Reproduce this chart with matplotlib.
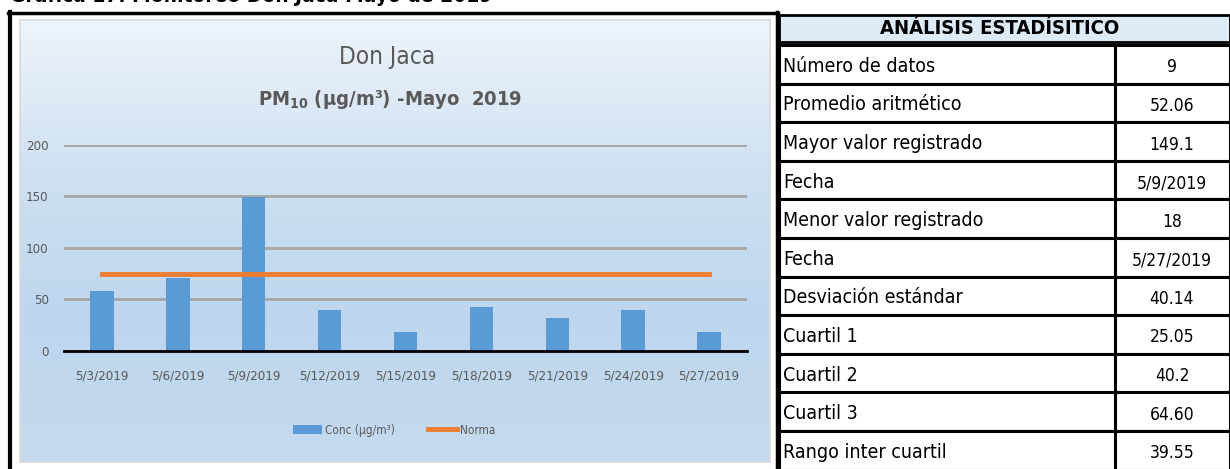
import matplotlib.pyplot as plt
import matplotlib.font_manager as fm
import numpy as np
from matplotlib.patches import Rectangle
from matplotlib.colors import LinearSegmentedColormap

# fuente angosta si existe
nombres = {f.name for f in fm.fontManager.ttflist}
if 'Liberation Sans Narrow' in nombres:
    plt.rcParams['font.family'] = ['Liberation Sans Narrow', 'DejaVu Sans']
else:
    plt.rcParams['font.family'] = ['DejaVu Sans']
    plt.rcParams['font.stretch'] = 'condensed'
plt.rcParams['mathtext.fontset'] = 'custom'
plt.rcParams['mathtext.rm'] = plt.rcParams['font.family'][0]
plt.rcParams['mathtext.bf'] = plt.rcParams['font.family'][0] + ':bold'

# datos del grafico
fechas = ['5/3/2019', '5/6/2019', '5/9/2019', '5/12/2019', '5/15/2019',
          '5/18/2019', '5/21/2019', '5/24/2019', '5/27/2019']
conc = [58.3, 70.9, 149.1, 40.2, 18.0, 42.4, 32.1, 39.5, 18.0]
norma = [75] * len(fechas)
yticks = [0, 50, 100, 150, 200]

# tabla de estadisticas
etiquetas = ['Número de datos', 'Promedio aritmético', 'Mayor valor registrado', 'Fecha',
             'Menor valor registrado', 'Fecha', 'Desviación estándar', 'Cuartil 1',
             'Cuartil 2', 'Cuartil 3', 'Rango inter cuartil']
valores = ['9', '52.06', '149.1', '5/9/2019', '18', '5/27/2019', '40.14',
           '25.05', '40.2', '64.60', '39.55']

W, H = 1230, 469
fig = plt.figure(figsize=(W / 100, H / 100), dpi=100)
fig.patch.set_facecolor('white')

def px_axes(x0, y0, x1, y1):
    # coordenadas en pixeles, origen arriba a la izquierda
    return fig.add_axes([x0 / W, 1 - y1 / H, (x1 - x0) / W, (y1 - y0) / H])

# fondo degradado del grafico
bg = px_axes(20, 20, 770, 462)
cmap = LinearSegmentedColormap.from_list('fondo', ['#EEF4FA', '#D0E1F2', '#BDD6EE', '#C6DAEF'])
grad = np.linspace(0, 1, 256).reshape(-1, 1)
bg.imshow(grad, aspect='auto', cmap=cmap, extent=[0, 1, 0, 1], origin='upper')
bg.set_xlim(0, 1)
bg.set_ylim(0, 1)
bg.set_xticks([])
bg.set_yticks([])
for s in bg.spines.values():
    s.set_color('#D9D9D9')
    s.set_linewidth(1.2)

bg.text(0.489, 0.916, 'Don Jaca', ha='center', va='center', fontsize=17.5, color='#595959',
        transform=bg.transAxes)
bg.text(0.493, 0.821, r'PM$_{\mathbf{10}}$ (µg/m³) -Mayo  2019', ha='center', va='center',
        fontsize=14.5, color='#595959', fontweight='bold', transform=bg.transAxes)

# grafico de barras
ax = px_axes(64, 144.7, 747, 351)
ax.patch.set_alpha(0)
x = np.arange(len(fechas))
ax.set_axisbelow(True)
ax.yaxis.grid(True, color='#A6A6A6', linewidth=2)
b = ax.bar(x, conc, width=0.31, color='#5B9BD5', label='Conc (µg/m³)', zorder=2)
l, = ax.plot(x, norma, color='#ED7D31', linewidth=3.5, label='Norma', zorder=3)
ax.set_xlim(-0.5, len(fechas) - 0.5)
ax.set_ylim(0, 200)
ax.set_yticks(yticks)
ax.set_xticks(x)
ax.set_xticklabels(fechas)
ax.tick_params(axis='both', length=0, colors='#595959', labelsize=9.5)
ax.tick_params(axis='y', pad=11)
ax.tick_params(axis='x', pad=13)
for s in ['top', 'right', 'left']:
    ax.spines[s].set_visible(False)
ax.spines['bottom'].set_color('black')
ax.spines['bottom'].set_linewidth(2)
ax.spines['bottom'].set_zorder(4)
leg = ax.legend(handles=[b, l], loc='upper center', bbox_to_anchor=(0.483, -0.3), ncol=2,
                frameon=False, fontsize=8.5, handlelength=2.5, handletextpad=0.2,
                columnspacing=2.8)
for t in leg.get_texts():
    t.set_color('#595959')

# marco y tabla
ov = fig.add_axes([0, 0, 1, 1])
ov.set_xlim(0, W)
ov.set_ylim(H, 0)
ov.axis('off')
ov.patch.set_alpha(0)
ov.plot([9.5, 9.5], [12, H], color='black', linewidth=3)
ov.plot([8, 778], [13, 13], color='black', linewidth=2.5)
ov.plot([776.5, 776.5], [12, H], color='black', linewidth=2.5)
ov.text(10, 2, 'Gráfica 17. Monitoreo Don Jaca Mayo de 2019', fontsize=15,
        fontweight='bold', va='baseline', ha='left')

ov.add_patch(Rectangle((779, 15), 451, 27, facecolor='#DDEBF7', edgecolor='black', linewidth=2))
ov.text(1000, 29, 'ANÁLISIS ESTADÍSITICO', ha='center', va='center', fontsize=14.5,
        fontweight='bold')
row_h = 38.6
top = 45
for i, (et, va) in enumerate(zip(etiquetas, valores)):
    y0 = top + i * row_h
    ov.add_patch(Rectangle((779, y0), 336, row_h, facecolor='white', edgecolor='black',
                           linewidth=2.2))
    ov.add_patch(Rectangle((1115, y0), 115, row_h, facecolor='white', edgecolor='black',
                           linewidth=2.2))
    ov.text(783, y0 + row_h / 2 + 2, et, ha='left', va='center', fontsize=14)
    ov.text(1172, y0 + row_h / 2 + 3, va, ha='center', va='center', fontsize=12.5)

fig.savefig('out.png', dpi=100)
